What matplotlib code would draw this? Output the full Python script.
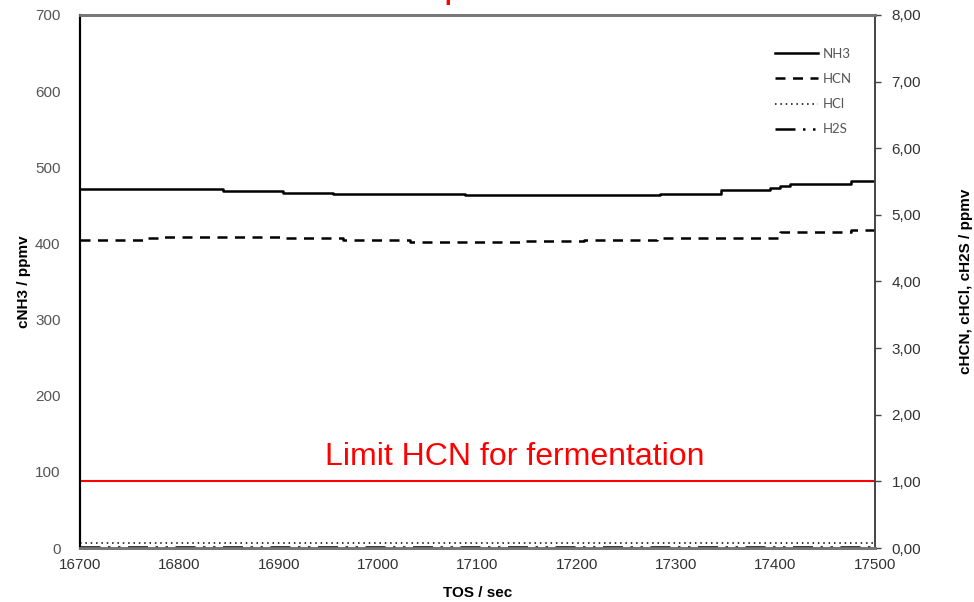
import numpy as np
import matplotlib.pyplot as plt

# step data
t_nh3 = [16700, 16844, 16904, 16955, 17017, 17088, 17284, 17345, 17395, 17405, 17415, 17476, 17500]
nh3 = [471, 469.5, 466.5, 465.5, 464.5, 463.5, 465, 470, 472.5, 476, 477.5, 482, 482]

t_hcn = [16700, 16768, 16780, 16902, 16965, 17032, 17146, 17207, 17281, 17405, 17476, 17500]
hcn = [4.62, 4.65, 4.67, 4.65, 4.62, 4.60, 4.61, 4.62, 4.65, 4.74, 4.78, 4.78]

t_hcl = [16700, 17500]
hcl = [0.08, 0.08]

t_h2s = [16700, 17500]
h2s = [0.01, 0.01]

limit_hcn = 1.0

left_ticks = [0, 100, 200, 300, 400, 500, 600, 700]
right_ticks = [0, 1, 2, 3, 4, 5, 6, 7, 8]
x_ticks = [16700, 16800, 16900, 17000, 17100, 17200, 17300, 17400, 17500]

plt.rcParams['font.family'] = ['Liberation Sans', 'DejaVu Sans']

fig = plt.figure(figsize=(9.74, 6.02), dpi=100)
ax = fig.add_axes([0.0821, 0.0897, 0.816, 0.8854])
ax2 = ax.twinx()

l1, = ax.plot(t_nh3, nh3, drawstyle='steps-post', color='black', lw=1.8, label='NH3')
l2, = ax2.plot(t_hcn, hcn, drawstyle='steps-post', color='black', lw=1.8,
               dashes=(4, 3), label='HCN')
l3, = ax2.plot(t_hcl, hcl, color='black', lw=1.1, dashes=(1, 2.5), label='HCl')
l4, = ax2.plot(t_h2s, h2s, color='black', lw=1.8, dashes=(8, 3, 1, 3, 1, 3), label='H2S')
ax2.axhline(limit_hcn, color='red', lw=1.5)
ax2.text(17138, 1.25, 'Limit HCN for fermentation', color='red', fontsize=23,
         ha='center', va='baseline')

ax.set_xlim(16700, 17500)
ax.set_ylim(0, 700)
ax2.set_ylim(0, 8)
ax.set_xticks(x_ticks)
ax.set_yticks(left_ticks)
ax2.set_yticks(right_ticks)
ax2.set_yticklabels([('%.2f' % v).replace('.', ',') for v in right_ticks])

ax.tick_params(axis='y', length=0, pad=14, labelsize=11, labelcolor='#555555')
ax.tick_params(axis='x', length=0, pad=7, labelsize=11, labelcolor='#333333')
ax2.tick_params(axis='y', length=4, width=1, color='#444444', pad=8,
                labelsize=11, labelcolor='#333333')

for a in (ax, ax2):
    a.spines['top'].set_color('#777777')
    a.spines['top'].set_linewidth(2)
    a.spines['bottom'].set_color('#777777')
    a.spines['bottom'].set_linewidth(2)
    a.spines['left'].set_color('black')
    a.spines['left'].set_linewidth(1.5)
    a.spines['right'].set_color('#444444')
    a.spines['right'].set_linewidth(1.2)

ax.set_xlabel('TOS / sec', fontsize=11, fontweight='bold', labelpad=10)
ax.set_ylabel('cNH3 / ppmv', fontsize=11, fontweight='bold', labelpad=3)
ax2.set_ylabel('cHCN, cHCl, cH2S / ppmv', fontsize=11, fontweight='bold', labelpad=27)

leg = ax2.legend(handles=[l1, l2, l3, l4], loc='upper left',
                 bbox_to_anchor=(763 / 974, 1 - 36 / 602), bbox_transform=fig.transFigure,
                 frameon=False, handlelength=3.3, handletextpad=0.3, labelspacing=1.0,
                 prop={'family': 'Lato', 'size': 9.5})
for txt in leg.get_texts():
    txt.set_color('#555555')

# clipped red fragment of the slide title at the very top
fig.text(443 / 974, 1 + 3 / 602, 'p', color='red', fontsize=28, va='baseline')

fig.savefig('out.png', dpi=100)
